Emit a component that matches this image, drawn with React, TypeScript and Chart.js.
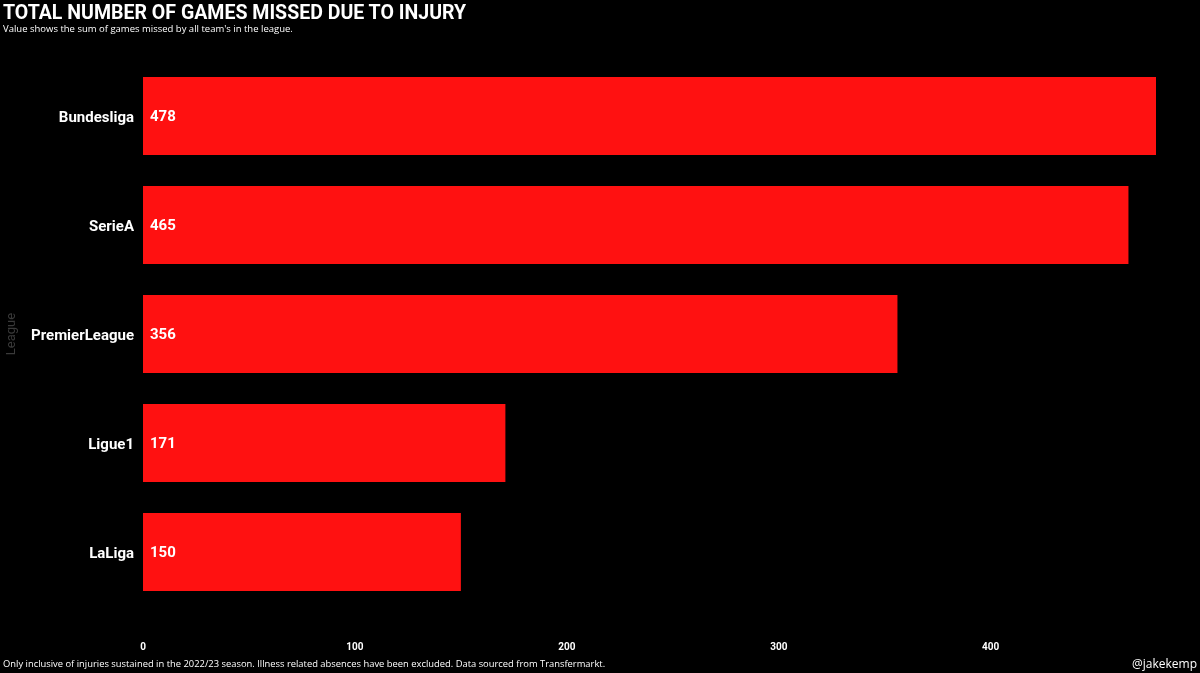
import React, { useEffect, useRef } from "react";
import { Chart, registerables } from "chart.js";

Chart.register(...registerables);

const LEAGUES = ["Bundesliga", "SerieA", "PremierLeague", "Ligue1", "LaLiga"];
const GAMES_MISSED = [478, 465, 356, 171, 150];
const X_TICKS = [0, 100, 200, 300, 400];

const TITLE = "TOTAL NUMBER OF GAMES MISSED DUE TO INJURY";
const SUBTITLE = "Value shows the sum of games missed by all team's in the league.";
const FOOTER = "Only inclusive of injuries sustained in the 2022/23 season. Illness related absences have been excluded. Data sourced from Transfermarkt.";
const HANDLE = "@jakekemp";

const BAR_COLOR = "#FF1111";
const FONT = "Roboto, 'Noto Sans', sans-serif";

const valueLabels = {
  id: "valueLabels",
  afterDatasetsDraw(chart: any) {
    const ctx = chart.ctx;
    const meta = chart.getDatasetMeta(0);
    ctx.save();
    ctx.fillStyle = "#FFFFFF";
    ctx.font = `bold 15px ${FONT}`;
    ctx.textAlign = "left";
    ctx.textBaseline = "middle";
    meta.data.forEach((bar: any, i: number) => {
      ctx.fillText(String(GAMES_MISSED[i]), chart.chartArea.left + 7, bar.y + 1.5);
    });
    ctx.restore();
  },
};

export default function App() {
  const ref = useRef<HTMLCanvasElement>(null);
  useEffect(() => {
    if (!ref.current) return;
    const chart = new Chart(ref.current, {
      type: "bar",
      data: {
        labels: LEAGUES,
        datasets: [
          {
            data: GAMES_MISSED,
            backgroundColor: BAR_COLOR,
            borderWidth: 0,
            barPercentage: 0.716,
            categoryPercentage: 1,
          },
        ],
      },
      options: {
        indexAxis: "y",
        animation: false,
        responsive: false,
        maintainAspectRatio: false,
        layout: { padding: { top: 61.5, right: 44, left: 0, bottom: 0 } },
        plugins: {
          legend: { display: false },
          tooltip: { enabled: false },
        },
        scales: {
          x: {
            min: 0,
            max: 478,
            grid: { display: false, drawTicks: false },
            border: { display: false },
            afterBuildTicks: (scale: any) => {
              scale.ticks = X_TICKS.map((v) => ({ value: v }));
            },
            afterFit: (scale: any) => {
              scale.height = 66.5;
            },
            ticks: {
              color: "#FFFFFF",
              font: { family: FONT, size: 10, weight: "bold" },
              padding: 35,
              maxRotation: 0,
            },
          },
          y: {
            grid: { display: false, drawTicks: false },
            border: { display: false },
            afterFit: (scale: any) => {
              scale.width = 143;
            },
            ticks: {
              color: "#FFFFFF",
              font: { family: FONT, size: 15, weight: "bold" },
              padding: 9,
              labelOffset: 2,
            },
            title: {
              display: true,
              text: "League",
              color: "#3A3A3A",
              font: { family: FONT, size: 13 },
              padding: { top: 4, bottom: 0 },
            },
          },
        },
      },
      plugins: [valueLabels],
    });
    return () => chart.destroy();
  }, []);

  return (
    <div
      style={{
        position: "fixed",
        left: 0,
        top: 0,
        width: 1200,
        height: 673,
        background: "#000000",
        overflow: "hidden",
      }}
    >
      <canvas ref={ref} width={1200} height={673} style={{ position: "absolute", left: 0, top: 0 }} />
      <div
        style={{
          position: "absolute",
          left: 3,
          top: 0,
          color: "#FFFFFF",
          fontFamily: FONT,
          fontWeight: 700,
          fontSize: 21,
          lineHeight: "24px",
          whiteSpace: "nowrap",
          transform: "scaleX(0.93)",
          transformOrigin: "left top",
        }}
      >
        {TITLE}
      </div>
      <div
        style={{
          position: "absolute",
          left: 3,
          top: 22,
          color: "#FFFFFF",
          fontFamily: "'Open Sans', sans-serif",
          fontSize: 9.5,
          lineHeight: "14px",
          whiteSpace: "nowrap",
        }}
      >
        {SUBTITLE}
      </div>
      <div
        style={{
          position: "absolute",
          left: 3,
          top: 657,
          color: "#FFFFFF",
          fontFamily: "'Open Sans', sans-serif",
          fontSize: 9.4,
          lineHeight: "14px",
          whiteSpace: "nowrap",
        }}
      >
        {FOOTER}
      </div>
      <div
        style={{
          position: "absolute",
          right: 3,
          top: 655,
          color: "#FFFFFF",
          fontFamily: "'Open Sans', sans-serif",
          fontSize: 12,
          lineHeight: "18px",
          whiteSpace: "nowrap",
        }}
      >
        {HANDLE}
      </div>
    </div>
  );
}
